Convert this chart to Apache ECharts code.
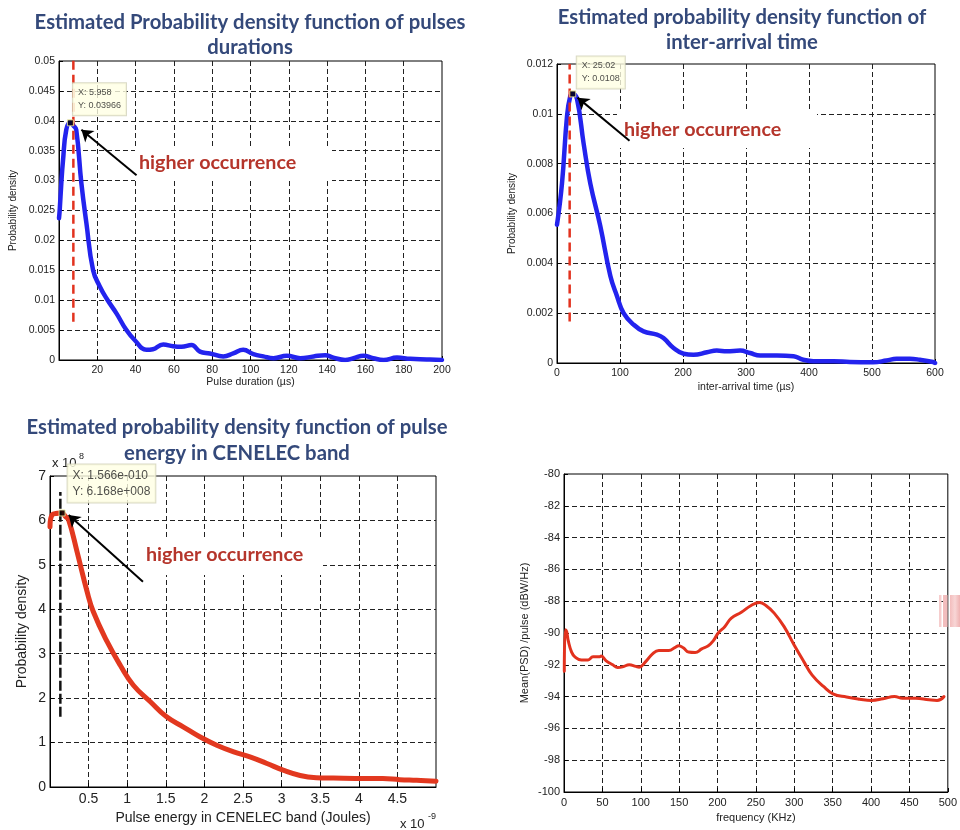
<!DOCTYPE html>
<html><head><meta charset="utf-8">
<script src="https://cdn.jsdelivr.net/npm/echarts@6/dist/echarts.min.js"></script>
<style>html,body{margin:0;padding:0;background:#fff}#c{width:960px;height:830px}</style>
</head><body><div id="c"></div>
<script>
// ---------- DATA ----------
// Panel 1: PDF of pulse durations (x in µs)
const durX = [0,0.35,1.2,2.1,3.8,5.96,7.5,9,11.7,14.3,17.8,21.3,25,30,35.2,39.6,45.7,49,54.4,59.6,64,69.2,73.6,78.8,85.8,91,96.2,101.5,106.7,112,119,126,133,139,143.3,149.4,153.8,159,164,169.5,176.5,183.4,192,200];
const durY = [0.0237,0.025,0.0295,0.0334,0.0385,0.0397,0.0392,0.0385,0.0295,0.0229,0.015,0.0123,0.0102,0.0078,0.005,0.0033,0.0017,0.0018,0.0026,0.0023,0.0022,0.0025,0.0014,0.0011,0.0006,0.0011,0.0017,0.001,0.0006,0.0003,0.0007,0.0003,0.0006,0.0008,0.0004,0.0,0.0003,0.0007,0.0003,0.0,0.0004,0.0002,0.0001,0.0];
const durMarkX = [7.5, 7.5];
const durMarkY = [0.0064, 0.0507];
const durTip = [5.958, 0.03966];
const durArrowTail = [40.5, 0.0309];
const durArrowHead = [11.7, 0.0385];

// Panel 2: PDF of inter-arrival time (x in µs)
const iatX = [0,7.9,15.9,21,25.02,31.7,42.3,52.9,68.7,84.6,95,105.7,121.6,137.4,158.6,169,185,201,216.7,238,253.7,269.6,290.7,306.6,322.5,349,375.5,391,407,439,465,502,523,539,560,576,597,600];
const iatY = [0.00555,0.0072,0.0099,0.0107,0.0108,0.0106,0.0088,0.0072,0.0055,0.0035,0.0027,0.002,0.00154,0.00127,0.00114,0.001,0.0006,0.00037,0.00033,0.00043,0.0005,0.00047,0.0005,0.0004,0.0003,0.0003,0.00027,0.00013,0.00007,0.00007,0.00004,0.00003,0.0001,0.00017,0.00017,0.00013,0.00004,0.0];
const iatMarkX = [20.1, 20.1];
const iatMarkY = [0.00167, 0.012];
const iatTip = [25.02, 0.0108];
const iatArrowTail = [115.1, 0.00892];
const iatArrowHead = [32.7, 0.01065];

// Panel 3: PDF of pulse energy (x in 1e-9 J, y in 1e8)
const enX = [0,0.03,0.1,0.156,0.2,0.24,0.35,0.48,0.56,0.74,0.91,1.08,1.3,1.51,1.73,1.94,2.16,2.38,2.59,2.81,3.02,3.24,3.45,3.67,4.1,4.31,4.53,4.75,5.0];
const enY = [5.86,6.13,6.16,6.168,6.09,6.02,5.3,4.4,3.95,3.27,2.74,2.29,1.92,1.58,1.35,1.13,0.94,0.79,0.68,0.53,0.38,0.26,0.21,0.2,0.19,0.19,0.165,0.15,0.13];
const enMarkX = [0.134, 0.134];
const enMarkY = [1.58, 6.64];
const enTip = [0.1566, 6.168];
const enTipText = ['X: 1.566e-010', 'Y: 6.168e+008'];
const enArrowTail = [1.204, 4.62];
const enArrowHead = [0.242, 6.12];

// Panel 4: Mean PSD per pulse (x in KHz, y in dBW/Hz)
const psdX = [0.4,1.7,3.4,5.6,9.9,14.2,22.7,31.3,37.8,46.4,48.5,54.9,63.5,70,76.4,85,93.6,97.9,106.4,115,123.6,136.5,145,149.4,155.8,162.2,170.8,179.4,188,194.4,200.9,209.4,218,231,243.8,254.5,263,273.8,286.7,299.6,312.4,323,338,351,368,385,400.4,415.5,430.5,441,458,475.5,486,495];
const psdY = [-92.4,-89.8,-89.9,-90.5,-91.2,-91.5,-91.7,-91.7,-91.5,-91.5,-91.45,-91.75,-92.0,-92.17,-92.13,-92.0,-92.1,-92.15,-91.8,-91.33,-91.1,-91.1,-90.9,-90.8,-90.95,-91.2,-91.23,-91.0,-90.8,-90.5,-90.0,-89.6,-89.07,-88.7,-88.27,-88.08,-88.27,-88.75,-89.6,-90.74,-91.8,-92.63,-93.36,-93.84,-94.03,-94.16,-94.24,-94.14,-94.0,-94.1,-94.1,-94.2,-94.24,-94.0];

const titles = [
  ['Estimated Probability density function of pulses', 'durations'],
  ['Estimated probability density function of', 'inter-arrival time'],
  ['Estimated probability density function of pulse', 'energy in CENELEC band']
];
const annotText = 'higher occurrence';

// ---------- HELPERS ----------
const zip = (a, b) => a.map((v, i) => [v, b[i]]);
const FONT = 'Liberation Sans, Arial, sans-serif';
const TFONT = 'bold 20.3px Lato, "Open Sans", sans-serif';

function xAxis(gi, min, max, interval, name, fs, nameGap, showMin, showMax) {
  return {
    type: 'value', gridIndex: gi, min, max, interval,
    name, nameLocation: 'middle', nameGap,
    nameTextStyle: { color: '#222', fontSize: fs, fontFamily: FONT },
    axisLine: { show: true, onZero: false, lineStyle: { color: '#000', width: 1 } },
    axisTick: { show: true, inside: true, length: 4, lineStyle: { color: '#000' } },
    axisLabel: { color: '#222', fontSize: fs, fontFamily: FONT, margin: 5, showMinLabel: showMin, showMaxLabel: showMax },
    splitLine: { show: true, showMinLine: false, showMaxLine: false, lineStyle: { color: '#222', width: 1, type: [5, 3] } }
  };
}
function yAxis(gi, min, max, interval, name, fs, nameFs, nameGap) {
  return {
    type: 'value', gridIndex: gi, min, max, interval,
    name, nameLocation: 'middle', nameGap,
    nameTextStyle: { color: '#222', fontSize: nameFs, fontFamily: FONT },
    axisLine: { show: true, onZero: false, lineStyle: { color: '#000', width: 1 } },
    axisTick: { show: true, inside: true, length: 4, lineStyle: { color: '#000' } },
    axisLabel: { color: '#222', fontSize: fs, fontFamily: FONT, margin: 4 },
    splitLine: { show: true, showMinLine: false, showMaxLine: false, lineStyle: { color: '#222', width: 1, type: [5, 3] } }
  };
}
function curve(gi, xs, ys, color, width) {
  return {
    type: 'line', xAxisIndex: gi, yAxisIndex: gi, data: zip(xs, ys),
    showSymbol: false, smooth: 0.45,
    lineStyle: { color, width, cap: 'round', join: 'round' }, z: 3, silent: true
  };
}
function vline(gi, xs, ys, color, width, dash) {
  return {
    type: 'line', xAxisIndex: gi, yAxisIndex: gi, data: zip(xs, ys), clip: false,
    showSymbol: false, lineStyle: { color, width, type: dash }, z: 4, silent: true
  };
}
function tip(gi, pt, text, pos, fs, lh) {
  return {
    type: 'scatter', xAxisIndex: gi, yAxisIndex: gi, data: [pt], symbol: 'rect', symbolSize: 6,
    itemStyle: { color: '#000', borderColor: '#f5f0a0', borderWidth: 1 }, z: 6, silent: true,
    label: {
      show: true, position: pos, formatter: text, fontSize: fs, lineHeight: lh, color: '#222',
      fontFamily: FONT, backgroundColor: '#FFFFE3', borderColor: '#CFCFB5', borderWidth: 1, padding: [3, 5, 3, 5]
    }
  };
}
function arrow(gi, tail, head) {
  return {
    type: 'lines', coordinateSystem: 'cartesian2d', xAxisIndex: gi, yAxisIndex: gi,
    data: [{ coords: [tail, head] }], symbol: ['none', 'arrow'], symbolSize: [0, 11],
    lineStyle: { color: '#000', width: 2, opacity: 1 }, z: 7, silent: true
  };
}
function titleText(t, cx, y1, y2) {
  return [
    { type: 'text', z: 10, style: { text: t[0], x: cx, y: y1, align: 'center', verticalAlign: 'middle', font: TFONT, fill: '#34497A' } },
    { type: 'text', z: 10, style: { text: t[1], x: cx, y: y2, align: 'center', verticalAlign: 'middle', font: TFONT, fill: '#34497A' } }
  ];
}
function annot(x, y, w, h, tx, ty) {
  return [
    { type: 'rect', z: 1, shape: { x, y, width: w, height: h }, style: { fill: '#fff' } },
    { type: 'text', z: 8, style: { text: annotText, x: tx, y: ty, align: 'left', verticalAlign: 'middle', font: 'bold 19.7px Lato, "Open Sans", sans-serif', fill: '#B5352B' } }
  ];
}

const grids = [
  { left: 59, top: 61, width: 383, height: 299 },
  { left: 557, top: 64, width: 378, height: 299 },
  { left: 50, top: 476, width: 386, height: 311 },
  { left: 564, top: 474, width: 388, height: 318 }
].map(g => Object.assign(g, { show: true, borderColor: '#000', borderWidth: 1, backgroundColor: 'transparent', containLabel: false }));

const pink = new echarts.graphic.LinearGradient(0, 0, 1, 0, [
  { offset: 0, color: '#F3BDBD' }, { offset: 0.5, color: '#F8D6D6' }, { offset: 1, color: '#EFB2B2' }
]);

const option = {
  animation: false,
  backgroundColor: '#fff',
  grid: grids,
  xAxis: [
    xAxis(0, 0, 200, 20, 'Pulse duration (µs)', 10.5, 17, false, true),
    xAxis(1, 0, 600, 100, 'inter-arrival time (µs)', 10.5, 19, true, true),
    xAxis(2, 0, 5, 0.5, 'Pulse energy in CENELEC band (Joules)', 14, 24, false, false),
    xAxis(3, 0, 500, 50, 'frequency (KHz)', 11, 20, true, true)
  ],
  yAxis: [
    yAxis(0, 0, 0.05, 0.005, 'Probability density', 10.5, 10, 41),
    yAxis(1, 0, 0.012, 0.002, 'Probability density', 10.5, 10, 40),
    yAxis(2, 0, 7, 1, 'Probability density', 14, 14, 21),
    yAxis(3, -100, -80, 2, 'Mean(PSD) /pulse (dBW/Hz)', 11, 11, 34)
  ],
  series: [
    curve(0, durX, durY, '#2323EE', 4.5),
    vline(0, durMarkX, durMarkY, '#E2321E', 2.5, [9, 5]),
    arrow(0, durArrowTail, durArrowHead),
    tip(0, durTip, 'X: ' + durTip[0] + '\nY: ' + durTip[1], [6, -36], 9, 13),

    curve(1, iatX, iatY, '#2323EE', 4.5),
    vline(1, iatMarkX, iatMarkY, '#E2321E', 2.5, [9, 5]),
    arrow(1, iatArrowTail, iatArrowHead),
    tip(1, iatTip, 'X: ' + iatTip[0] + '\nY: ' + iatTip[1], [7.5, -34], 9, 13),

    curve(2, enX, enY, '#E2381F', 5),
    vline(2, enMarkX, enMarkY, '#111', 2.5, [10, 3]),
    arrow(2, enArrowTail, enArrowHead),
    tip(2, enTip, enTipText.join('\n'), [9, -45], 12, 16),

    curve(3, psdX, psdY, '#E2321E', 3)
  ],
  graphic: [
    ...titleText(titles[0], 250, 22, 47),
    ...titleText(titles[1], 742, 17, 42),
    ...titleText(titles[2], 237, 427, 453),
    ...annot(135, 148, 197, 33, 139, 163),
    ...annot(617, 111, 200, 37, 624, 130),
    ...annot(137, 538, 186, 37, 146, 555),
    { type: 'text', z: 2, style: { text: 'x 10', x: 52, y: 463, align: 'left', verticalAlign: 'middle', font: '13px ' + FONT, fill: '#222' } },
    { type: 'text', z: 2, style: { text: '8', x: 79, y: 457, align: 'left', verticalAlign: 'middle', font: '9px ' + FONT, fill: '#222' } },
    { type: 'text', z: 2, style: { text: 'x 10', x: 400, y: 824, align: 'left', verticalAlign: 'middle', font: '13px ' + FONT, fill: '#222' } },
    { type: 'text', z: 2, style: { text: '-9', x: 428, y: 817, align: 'left', verticalAlign: 'middle', font: '9px ' + FONT, fill: '#222' } },
    { type: 'rect', z: 20, shape: { x: 939, y: 595, width: 2.5, height: 32 }, style: { fill: '#F6CDCD' } },
    { type: 'rect', z: 20, shape: { x: 943, y: 595, width: 4.5, height: 32 }, style: { fill: '#F2BDBD' } },
    { type: 'rect', z: 20, shape: { x: 950, y: 595, width: 10, height: 32 }, style: { fill: pink } }
  ]
};

const chart = echarts.init(document.getElementById('c'), null, { renderer: 'canvas' });
chart.setOption(option);
</script>
</body></html>
